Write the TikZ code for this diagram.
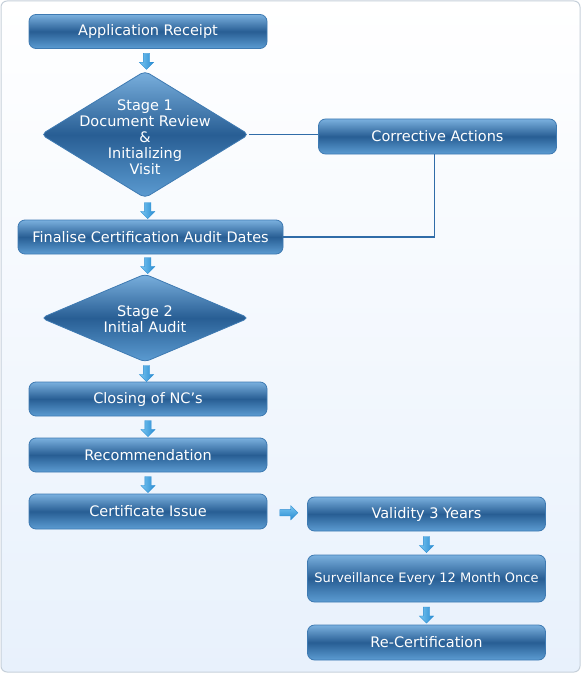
\documentclass[tikz,border=0pt]{standalone}
\usepackage{fontspec}
\setmainfont{DejaVu Sans}
\usetikzlibrary{shapes.geometric,shapes.arrows,calc}

\definecolor{boxtop}{RGB}{122,176,222}
\definecolor{boxmid}{RGB}{40,94,148}
\definecolor{boxbot}{RGB}{92,156,210}
\definecolor{boxedge}{RGB}{62,122,178}
\definecolor{linkcol}{RGB}{48,108,168}
\definecolor{arrtop}{RGB}{120,196,240}
\definecolor{arrbot}{RGB}{40,140,210}
\definecolor{framecol}{RGB}{198,208,218}
\definecolor{bgbot}{RGB}{232,241,252}

\begin{document}
\begin{tikzpicture}[x=1pt,y=-1pt,
    stepbox/.style={rectangle, rounded corners=7pt, draw=boxedge, line width=0.8pt,
        top color=boxtop, bottom color=boxbot, middle color=boxmid,
        text=white, font=\fontsize{14.5}{16}\selectfont,
        minimum width=238pt, minimum height=34pt, inner sep=0pt},
    stagediam/.style={diamond, rounded corners=5pt, draw=boxedge, line width=0.8pt,
        top color=boxtop, bottom color=boxbot, middle color=boxmid,
        minimum width=208pt, inner sep=0pt},
    stagetext/.style={text=white, align=center, font=\fontsize{14.5}{16}\selectfont},
    downarr/.style={single arrow, shape border rotate=270, draw=arrbot, line width=0.3pt,
        left color=arrtop, right color=arrbot,
        minimum height=16pt, inner sep=3pt, single arrow head extend=4pt},
    rightarr/.style={downarr, shape border rotate=0, minimum height=18pt,
        top color=arrtop, bottom color=arrbot},
    link/.style={draw=linkcol, line width=1.5pt}]

    % frame
    \useasboundingbox (0,0) rectangle (582,674);
    \draw[framecol, line width=1pt, rounded corners=6pt, top color=white, bottom color=bgbot]
        (1,1) rectangle (580,672);

    % left column
    \node[stepbox] (recpt) at (148,31.5) {Application Receipt};
    \node[stagediam, minimum height=127pt] (st1) at (145,134.5) {};
    \node[stagetext] (st1txt) at (145,137) {Stage 1\\Document Review\\\&\\Initializing\\Visit};
    \node[stepbox, minimum width=265pt] (dates) at (150.5,237) {Finalise Certification Audit Dates};
    \node[stagediam, minimum height=88pt] (st2) at (145,318) {};
    \node[stagetext] (st2txt) at (145,319) {Stage 2\\Initial Audit};
    \node[stepbox] (ncs) at (148,399) {Closing of NC’s};
    \node[stepbox] (recom) at (148,455) {Recommendation};
    \node[stepbox, minimum height=35pt] (issue) at (148,511.5) {Certificate Issue};

    % right column
    \node[stepbox, minimum height=35pt] (corr) at (437.5,136.5) {Corrective Actions};
    \node[stepbox] (valid) at (426.5,514) {Validity 3 Years};
    \node[stepbox, minimum height=47pt, font=\fontsize{13}{15}\selectfont] (surv) at (426.5,578.5)
        {Surveillance Every 12 Month Once};
    \node[stepbox, minimum height=35pt] (recert) at (426.5,642.5) {Re-Certification};

    % small arrows
    \node[downarr] (a1) at ($(recpt.south)!0.5!(st1.north)$) {};
    \node[downarr] (a2) at ($(st1.south)!0.5!(dates.north)$) {};
    \node[downarr] (a3) at ($(dates.south)!0.5!(st2.north)$) {};
    \node[downarr] (a4) at ($(st2.south)!0.5!(ncs.north)$) {};
    \node[downarr] (a5) at ($(ncs.south)!0.5!(recom.north)$) {};
    \node[downarr] (a6) at ($(recom.south)!0.5!(issue.north)$) {};
    \node[rightarr] (a7) at ($(issue.east)!0.5!(valid.west)$) {};
    \node[downarr] (a8) at ($(valid.south)!0.5!(surv.north)$) {};
    \node[downarr] (a9) at ($(surv.south)!0.5!(recert.north)$) {};

    % corrective loop
    \draw[link] (st1.east) -- (st1.east -| corr.west);
    \draw[link] ($(corr.south)+(-3,0)$) |- (dates.east);

\end{tikzpicture}
\end{document}
